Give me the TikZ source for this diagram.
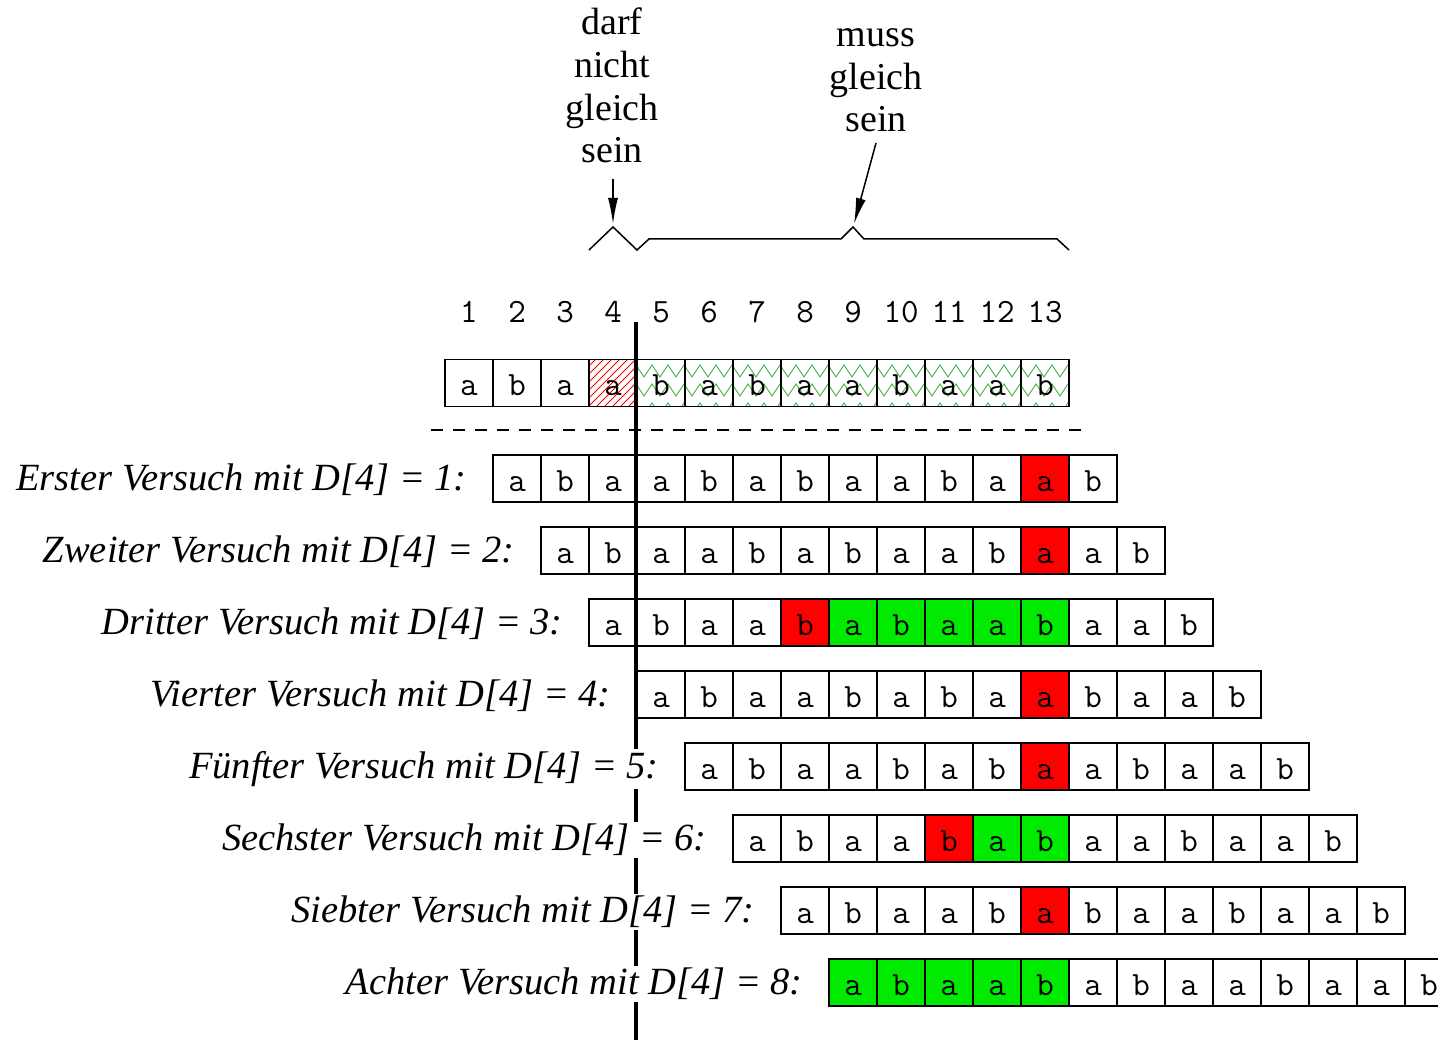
\documentclass[tikz,border=0pt]{standalone}
\usepackage{fontspec}
\setmainfont{Liberation Serif}
\usetikzlibrary{arrows.meta,decorations.pathmorphing}
\definecolor{cr}{RGB}{255,0,0}
\definecolor{cg}{RGB}{0,235,0}
\colorlet{cw}{white}
\definecolor{zzgreen}{RGB}{70,175,70}
\newcommand\letterof[1]{\ifcase#1\or a\or b\or a\or a\or b\or a\or b\or a\or a\or b\or a\or a\or b\fi}
\begin{document}
\begin{tikzpicture}[x=1pt,y=-1pt,
  cell/.style={draw, line width=1.2pt, minimum width=48pt, minimum height=47pt,
    inner sep=0pt, outer sep=0pt, text height=25pt, text depth=0pt,
    font=\fontsize{34}{34}\selectfont\ttfamily},
  numlbl/.style={anchor=base, inner sep=0pt, font=\fontsize{34}{34}\selectfont\ttfamily},
  toplbl/.style={anchor=base, inner sep=0pt, font=\fontsize{38}{38}\selectfont},
  rowlbl/.style={anchor=base east, fill=white, inner sep=2pt, font=\fontsize{38.5}{38.5}\selectfont\itshape},
  conn/.style={line width=1.5pt, -{Latex[length=26pt,width=10pt]}},
  zz/.style={zzgreen, line width=0.9pt, decorate, decoration={zigzag,segment length=16pt,amplitude=6pt}},
  hatch/.style={cr, line width=0.8pt}]
\useasboundingbox (0,0) rectangle (1438,1040);
\clip (0,0) rectangle (1438,1040);

% top labels
\node[toplbl] (d1) at (612,35) {darf};
\node[toplbl] (d2) at (612,78) {nicht};
\node[toplbl] (d3) at (612,121) {gleich};
\node[toplbl] (d4) at (612,163) {sein};
\node[toplbl] (m1) at (876,47) {muss};
\node[toplbl] (m2) at (876,90) {gleich};
\node[toplbl] (m3) at (876,132) {sein};

% brace
\draw[line width=1.5pt, line join=miter]
  (589,250) -- (613,227) -- (637,250) -- (649,239) -- (841,239)
  -- (853,227) -- (864,239) -- (1057,239) -- (1069,250);
\coordinate (a1s) at (613,179);
\coordinate (a1e) at (613,224);
\coordinate (a2s) at (876,143);
\coordinate (a2e) at (854,224);
\draw[conn] (a1s) -- (a1e);
\draw[conn] (a2s) -- (a2e);

% index numbers
\foreach \i in {1,...,13}
  \node[numlbl] (n\i) at ({445+48*(\i-0.5)},323) {\i};

% patterns in top row
\begin{scope}
  \clip (589,360) rectangle (637,406);
  \foreach \k in {-56,-48,...,56}
    \draw[hatch] ({589+\k},406) -- ({635+\k},360);
\end{scope}
\begin{scope}
  \clip (637,360) rectangle (1069,406);
  \foreach \yy in {371,390,409}
    \draw[zz] (632,\yy) -- (1080,\yy);
\end{scope}

% top row cells
\foreach \i in {1,...,13}
  \node[cell] (t\i) at ({445+48*(\i-0.5)},383) {\letterof{\i}};

% dashed line
\coordinate (dl) at (431,430);
\coordinate (dr) at (1082,430);
\draw[line width=2pt, dash pattern=on 12pt off 10pt] (dl) -- (dr);

% rows of cells
\foreach \cols [count=\r] in {
  {cw,cw,cw,cw,cw,cw,cw,cw,cw,cw,cw,cr,cw},
  {cw,cw,cw,cw,cw,cw,cw,cw,cw,cw,cr,cw,cw},
  {cw,cw,cw,cw,cr,cg,cg,cg,cg,cg,cw,cw,cw},
  {cw,cw,cw,cw,cw,cw,cw,cw,cr,cw,cw,cw,cw},
  {cw,cw,cw,cw,cw,cw,cw,cr,cw,cw,cw,cw,cw},
  {cw,cw,cw,cw,cr,cg,cg,cw,cw,cw,cw,cw,cw},
  {cw,cw,cw,cw,cw,cr,cw,cw,cw,cw,cw,cw,cw},
  {cg,cg,cg,cg,cg,cw,cw,cw,cw,cw,cw,cw,cw}}{
  \foreach \C [count=\i] in \cols
    \node[cell, fill=\C] (c\r-\i) at ({445+48*\r+48*(\i-0.5)},{478.5+72*(\r-1)}) {\letterof{\i}};
}

% vertical separator
\coordinate (vtop) at (636,322);
\coordinate (vbot) at (636,1045);
\draw[line width=4pt] (vtop) -- (vbot);

% row labels
\foreach \lab [count=\r] in {
  {Erster Versuch mit D[4] = 1:},
  {Zweiter Versuch mit D[4] = 2:},
  {Dritter Versuch mit D[4] = 3:},
  {Vierter Versuch mit D[4] = 4:},
  {Fünfter Versuch mit D[4] = 5:},
  {Sechster Versuch mit D[4] = 6:},
  {Siebter Versuch mit D[4] = 7:},
  {Achter Versuch mit D[4] = 8:}}
  \node[rowlbl] (l\r) at ({445+48*\r-24},{490.5+72*(\r-1)}) {\lab};
\end{tikzpicture}
\end{document}
